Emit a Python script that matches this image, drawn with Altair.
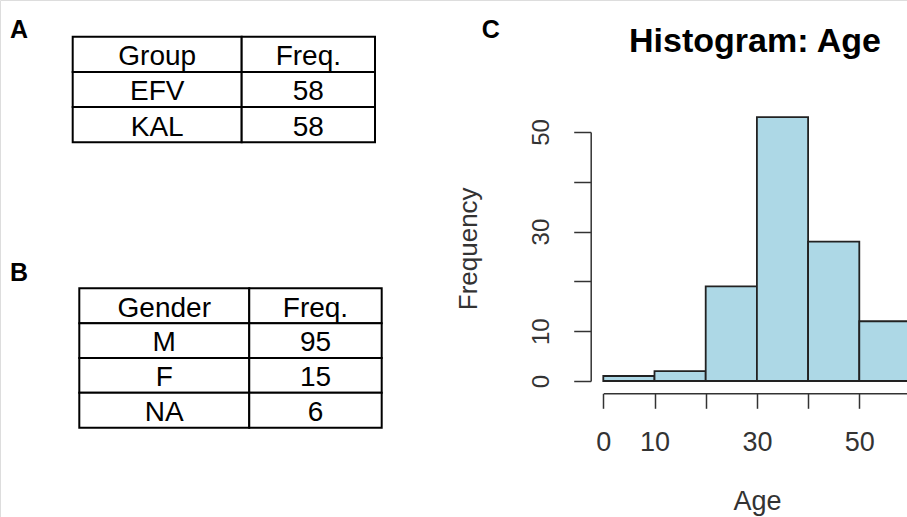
import altair as alt
import pandas as pd

# ---------------- data ----------------
group_header = ["Group", "Freq."]
group_names = ["EFV", "KAL"]
group_freq = [58, 58]

gender_header = ["Gender", "Freq."]
gender_names = ["M", "F", "NA"]
gender_freq = [95, 15, 6]

age_bin_lo = [0, 10, 20, 30, 40, 50]
age_bin_hi = [10, 20, 30, 40, 50, 60]
age_count = [1, 2, 19, 53, 28, 12]

y_tick_values = [0, 10, 20, 30, 40, 50]
x_tick_values = [0, 10, 20, 30, 40, 50, 60]
hidden_tick_labels = [20, 40, 60]

panel_letters = ["A", "B", "C"]
hist_title = "Histogram: Age"
x_title = "Age"
y_title = "Frequency"

# ---------------- layout ----------------
FONT = "Liberation Sans"
W, H = 907, 517
AXIS_COLOR = "#333333"


def table_layer(header, names, freqs, x_range, split, y_range):
    rows = [header] + [[n, str(f)] for n, f in zip(names, freqs)]
    recs = []
    for r, row in enumerate(rows):
        for c, txt in enumerate(row):
            x0 = 0.0 if c == 0 else split
            x1 = split if c == 0 else 1.0
            recs.append({"r0": r, "r1": r + 1, "rt": r + 0.81,
                         "x0": x0, "x1": x1, "xc": (x0 + x1) / 2, "txt": txt})
    df = pd.DataFrame(recs)
    xs = alt.Scale(domain=[0, 1], range=x_range, nice=False, zero=False)
    ys = alt.Scale(domain=[0, len(rows)], range=y_range, nice=False, zero=False)
    base = alt.Chart(df)
    cells = base.mark_rect(fill="white", stroke="black", strokeWidth=2).encode(
        x=alt.X("x0:Q", scale=xs, axis=None), x2="x1",
        y=alt.Y("r0:Q", scale=ys, axis=None), y2="r1")
    texts = base.mark_text(font=FONT, fontSize=28, color="black",
                           align="center", baseline="alphabetic").encode(
        x=alt.X("xc:Q", scale=xs, axis=None),
        y=alt.Y("rt:Q", scale=ys, axis=None),
        text="txt:N")
    return alt.layer(cells, texts)


table_a = table_layer(group_header, group_names, group_freq,
                      [72.7, 375.0], 0.559, [36.7, 142.3])
table_b = table_layer(gender_header, gender_names, gender_freq,
                      [79.3, 381.7], 0.562, [288.3, 427.7])

# ---------------- histogram ----------------
hist_df = pd.DataFrame({"lo": age_bin_lo, "hi": age_bin_hi, "n": age_count})
hide_expr = " || ".join(f"datum.value == {v}" for v in hidden_tick_labels)
label_expr = f"({hide_expr}) ? '' : datum.label"

x_axis = alt.Axis(
    values=x_tick_values, labelExpr=label_expr, offset=-123.7, grid=False,
    tickSize=15, tickWidth=1.5, tickColor=AXIS_COLOR,
    domainColor=AXIS_COLOR, domainWidth=1.5,
    labelPadding=42.4, labelBaseline="alphabetic", labelAlign="center",
    labelFlush=False, labelOverlap=False, labelFont=FONT, labelFontSize=27,
    labelColor=AXIS_COLOR,
    title=x_title, titleX=756.9, titleY=116.5, titleFont=FONT, titleFontSize=27,
    titleFontWeight="normal", titleColor=AXIS_COLOR, titleBaseline="alphabetic",
    titleAlign="center")

y_axis = alt.Axis(
    values=y_tick_values, labelExpr=label_expr, offset=-590.7, grid=False,
    tickSize=17, tickWidth=1.5, tickColor=AXIS_COLOR,
    domainColor=AXIS_COLOR, domainWidth=1.5,
    labelAngle=270, labelPadding=25, labelBaseline="alphabetic",
    labelAlign="center", labelFlush=False, labelOverlap=False,
    labelFont=FONT, labelFontSize=24, labelColor=AXIS_COLOR,
    title=y_title, titleAngle=270, titleX=-113.8, titleY=248.3, titleFont=FONT,
    titleFontSize=26, titleFontWeight="normal", titleColor=AXIS_COLOR,
    titleBaseline="alphabetic", titleAlign="center")

hx = alt.Scale(domain=[0, 60], range=[603.3, 910.5], nice=False, zero=False)
hy = alt.Scale(domain=[0, 50], range=[381, 132], nice=False, zero=False)

bars = alt.Chart(hist_df).mark_rect(fill="#ADD8E6", stroke="#222222",
                                    strokeWidth=1.8).encode(
    x=alt.X("lo:Q", scale=hx, axis=x_axis), x2="hi",
    y=alt.Y("n:Q", scale=hy, axis=y_axis), y2=alt.datum(0))

# ---------------- annotations ----------------
def note(txt, x, y, size, weight="bold", align="left"):
    return alt.Chart(pd.DataFrame({"t": [txt]})).mark_text(
        font=FONT, fontSize=size, fontWeight=weight, color="black",
        align=align, baseline="alphabetic").encode(
        x=alt.value(x), y=alt.value(y), text="t:N")


lab_a = note(panel_letters[0], 10, 38, 25)
lab_b = note(panel_letters[1], 10, 281, 25)
lab_c = note(panel_letters[2], 481.7, 38.3, 25)
title = note(hist_title, 755, 51.7, 34, align="center")

chart = alt.layer(bars, table_a, table_b, lab_a, lab_b, lab_c, title).resolve_scale(
    x="independent", y="independent").properties(
    width=W, height=H, padding=0,
    autosize=alt.AutoSizeParams(type="none")).configure_view(
    strokeWidth=0).configure(background="white")

chart.save("out.html", embed_options={"renderer": "svg", "actions": False})
